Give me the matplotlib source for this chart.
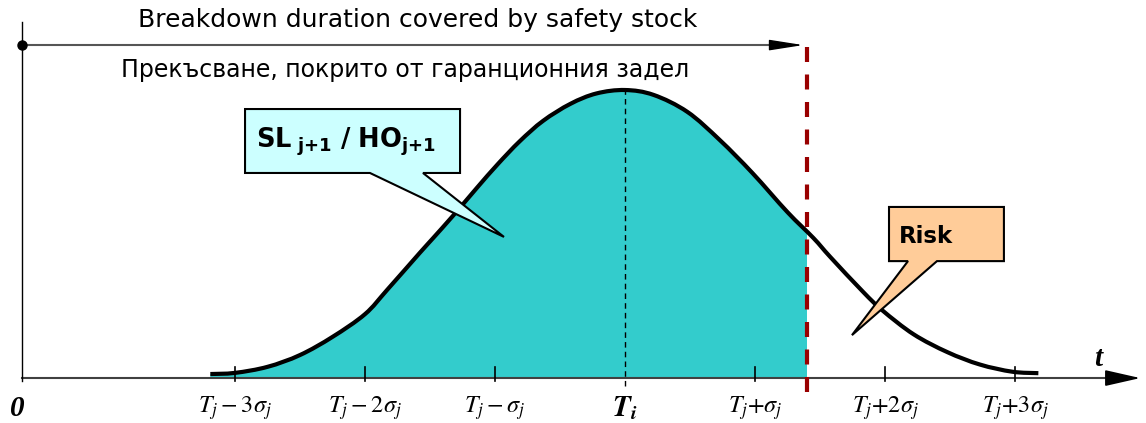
import numpy as np
import matplotlib.pyplot as plt
from matplotlib.patches import Polygon, Rectangle, PathPatch
from matplotlib.path import Path

# curve: x in sigma units around T, height relative to the peak
curve_x = [-3.19, -3.0, -2.75, -2.5, -2.25, -2.0, -1.83, -1.58, -1.48, -1.32, -1.14,
           -0.98, -0.81, -0.63, -0.42, -0.22, 0.0, 0.22, 0.48, 0.73, 0.98, 1.25,
           1.45, 1.58, 1.83, 1.98, 2.22, 2.48, 2.73, 2.98, 3.18]
curve_y = [0.014, 0.018, 0.039, 0.080, 0.143, 0.222, 0.306, 0.434, 0.484, 0.565, 0.660,
           0.742, 0.822, 0.893, 0.952, 0.988, 1.0, 0.983, 0.924, 0.826, 0.712, 0.576,
           0.486, 0.420, 0.300, 0.235, 0.152, 0.090, 0.047, 0.022, 0.017]
cutoff = 1.4   # end of the safety stock coverage, in sigma

tick_pos = [-3, -2, -1, 1, 2, 3]
tick_labels = [r"$T_j-3\sigma_j$", r"$T_j-2\sigma_j$", r"$T_j-\sigma_j$",
               r"$T_j{+}\sigma_j$", r"$T_j{+}2\sigma_j$", r"$T_j{+}3\sigma_j$"]

title_en = "Breakdown duration covered by safety stock"
title_bg = "Прекъсване, покрито от гаранционния задел"


# smooth path through the read points (cubic bezier segments)
def smooth_path(xs, ys):
    pts = np.column_stack([xs, ys])
    verts = [pts[0]]
    codes = [Path.MOVETO]
    n = len(pts)
    for i in range(n - 1):
        p0 = pts[max(i - 1, 0)]
        p1 = pts[i]
        p2 = pts[i + 1]
        p3 = pts[min(i + 2, n - 1)]
        verts += [p1 + (p2 - p0) / 6, p2 - (p3 - p1) / 6, p2]
        codes += [Path.CURVE4] * 3
    return verts, codes


fig = plt.figure(figsize=(11.46, 4.23), dpi=100)
ax = fig.add_axes([0, 0, 1, 1])
ax.set_xlim(-4.808, 4.008)
ax.set_ylim(-0.156, 1.3125)
ax.axis("off")

verts, codes = smooth_path(curve_x, curve_y)

# covered area
fverts = verts + [(curve_x[-1], 0), (curve_x[0], 0), verts[0]]
fcodes = codes + [Path.LINETO, Path.LINETO, Path.CLOSEPOLY]
fill = PathPatch(Path(fverts, fcodes), facecolor="#33CCCC", lw=0, zorder=1)
ax.add_patch(fill)
clip = Rectangle((-4, -0.1), cutoff + 4, 1.3, transform=ax.transData)
fill.set_clip_path(clip)

ax.add_patch(PathPatch(Path(verts, codes), facecolor="none", edgecolor="black",
                       lw=3, capstyle="butt", zorder=4))

# axes
ax.plot([-4.638, 3.85], [0, 0], color="#404040", lw=1.5, zorder=2)
ax.annotate("", xy=(3.985, 0), xytext=(3.7, 0),
            arrowprops=dict(arrowstyle="-|>,head_length=1.1,head_width=0.25",
                            color="black", lw=1.2, mutation_scale=20), zorder=5)
ax.plot([-4.638, -4.638], [-0.01, 1.236], color="black", lw=1, zorder=2)

# ticks
for p in tick_pos:
    ax.plot([p, p], [-0.01, 0.038], color="black", lw=1.2, zorder=5)
for p, lab in zip(tick_pos, tick_labels):
    ax.text(p, -0.104, lab, ha="center", va="center", fontsize=17.5,
            math_fontfamily="stix")
ax.text(0, -0.104, r"$\mathbfit{T}_{\mathbfit{i}}$", ha="center", va="center",
        fontsize=21, math_fontfamily="stix")
ax.text(-4.677, -0.104, "0", ha="center", va="center", fontsize=21,
        family="Liberation Serif", weight="bold", style="italic")
ax.text(3.638, 0.069, "t", ha="center", va="center", fontsize=21,
        family="Liberation Serif", weight="bold", style="italic")

# mean line and cutoff line
ax.plot([0, 0], [-0.028, 1.0], color="black", lw=1, ls=(0, (4, 3)), zorder=3)
ax.plot([cutoff, cutoff], [-0.049, 1.181], color="#990000", lw=3,
        ls=(0, (3.6, 3.0)), zorder=5)

# coverage arrow on top
ax.plot([-4.638, 1.3], [1.156, 1.156], color="#555555", lw=1.5, zorder=2)
ax.annotate("", xy=(1.392, 1.156), xytext=(1.1, 1.156),
            arrowprops=dict(arrowstyle="-|>,head_length=1.4,head_width=0.22",
                            color="black", lw=1, mutation_scale=15), zorder=5)
ax.plot([-4.638], [1.156], "o", color="black", ms=6.5, zorder=6)
ax.text(-1.592, 1.243, title_en, ha="center", va="center", fontsize=18)
ax.text(-1.692, 1.069, title_bg, ha="center", va="center", fontsize=17)


def callout(x0, x1, y0, y1, b0, b1, tip, color):
    pts = [(x0, y1), (x1, y1), (x1, y0), (b1, y0), tip, (b0, y0), (x0, y0)]
    ax.add_patch(Polygon(pts, closed=True, facecolor=color, edgecolor="black",
                         lw=1.5, zorder=7))


callout(-2.923, -1.269, 0.712, 0.934, -1.962, -1.554, (-0.931, 0.490), "#CCFFFF")
ax.text(-2.838, 0.819,
        r"$\mathbf{SL}_{\ \mathbf{j{+}1}}\mathbf{\ /\ HO}_{\mathbf{j{+}1}}$",
        ha="left", va="center", fontsize=18.5, math_fontfamily="dejavusans", zorder=8)

callout(2.031, 2.915, 0.406, 0.594, 2.177, 2.40, (1.746, 0.149), "#FFCC99")
ax.text(2.108, 0.493, "Risk", ha="left", va="center", fontsize=16.5,
        weight="bold", zorder=8)

fig.savefig("out.png", dpi=100)
